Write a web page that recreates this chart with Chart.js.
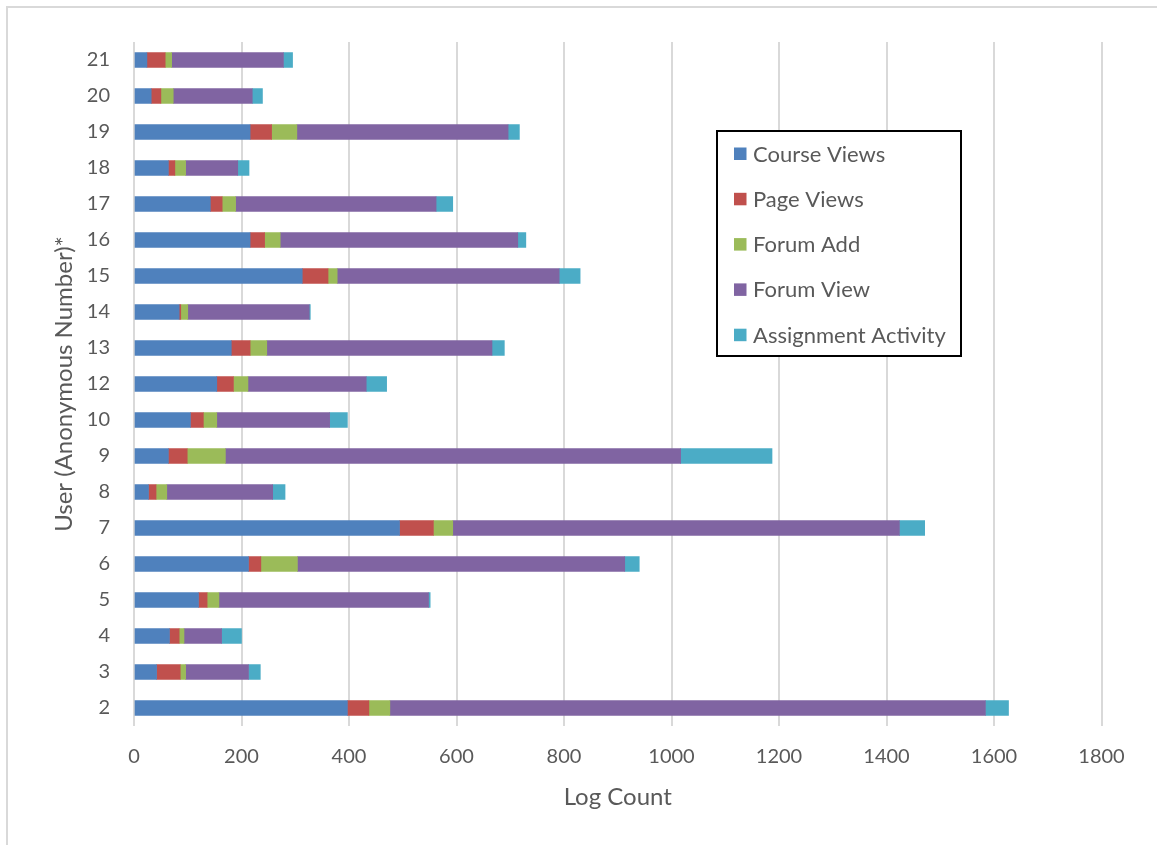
<!DOCTYPE html>
<html>
<head>
<meta charset="utf-8">
<title>Log Count by User</title>
<script src="https://cdn.jsdelivr.net/npm/chart.js@4.4.1/dist/chart.umd.min.js"></script>
<style>
  html, body { margin: 0; padding: 0; background: #ffffff; }
  canvas { display: block; }
</style>
</head>
<body>
<canvas id="chart" width="1157" height="845"></canvas>
<script>
// Users, listed bottom to top
const users = ['2', '3', '4', '5', '6', '7', '8', '9', '10', '12', '13', '14', '15', '16', '17', '18', '19', '20', '21'];

// Log counts per activity type, one value per user
const courseViews = [397, 42, 66, 120, 213, 494, 27, 64, 105, 154, 181, 84, 313, 216, 142, 64, 216, 32, 24];
const pageViews   = [40, 44, 18, 16, 23, 63, 14, 35, 24, 31, 35, 3, 48, 27, 22, 12, 40, 18, 34];
const forumAdd    = [39, 10, 9, 22, 68, 36, 20, 71, 25, 27, 31, 13, 17, 29, 25, 20, 47, 23, 12];
const forumView   = [1108, 117, 70, 390, 609, 831, 197, 847, 210, 220, 419, 226, 413, 442, 373, 97, 393, 147, 208];
const assignment  = [43, 22, 37, 3, 27, 47, 23, 170, 33, 38, 23, 2, 39, 15, 31, 21, 21, 19, 17];

const seriesNames = ['Course Views', 'Page Views', 'Forum Add', 'Forum View', 'Assignment Activity'];
const seriesColors = ['#4F81BD', '#C0504D', '#9BBB59', '#8064A2', '#4BACC6'];

// x-axis range
const xMin = 0, xMax = 1800, xStep = 200;

const FONT = 'Lato, Carlito, "Open Sans", sans-serif';
const TEXT = '#595959';

const seriesValues = [courseViews, pageViews, forumAdd, forumView, assignment];
const datasets = seriesValues.map((vals, i) => ({
  label: seriesNames[i],
  data: vals,
  backgroundColor: seriesColors[i],
  borderWidth: 0,
  barThickness: 15
}));

// Light frame around the whole chart
const framePlugin = {
  id: 'frame',
  beforeDraw(chart) {
    const ctx = chart.ctx;
    ctx.save();
    ctx.fillStyle = '#ffffff';
    ctx.fillRect(0, 0, chart.width, chart.height);
    ctx.strokeStyle = '#d9d9d9';
    ctx.lineWidth = 2;
    ctx.strokeRect(7, 7, chart.width + 20, chart.height + 20);
    ctx.restore();
  }
};

// Boxed legend placed inside the plot area
const boxLegendPlugin = {
  id: 'boxLegend',
  afterDraw(chart) {
    const ctx = chart.ctx;
    const x0 = 717, y0 = 131, w = 244, h = 225;
    ctx.save();
    ctx.fillStyle = '#ffffff';
    ctx.fillRect(x0, y0, w, h);
    ctx.strokeStyle = '#000000';
    ctx.lineWidth = 2;
    ctx.strokeRect(x0, y0, w, h);
    ctx.font = '22px ' + FONT;
    ctx.textBaseline = 'middle';
    ctx.textAlign = 'left';
    chart.data.datasets.forEach((ds, i) => {
      const cy = 153.5 + i * 45.3;
      ctx.fillStyle = ds.backgroundColor;
      ctx.fillRect(734, cy - 6, 12.5, 12.5);
      ctx.fillStyle = TEXT;
      ctx.fillText(ds.label, 753, cy + 1);
    });
    ctx.restore();
  }
};

new Chart(document.getElementById('chart'), {
  type: 'bar',
  data: { labels: users, datasets },
  options: {
    indexAxis: 'y',
    responsive: false,
    animation: false,
    layout: { padding: { left: 0, top: 42, right: 55.5, bottom: 0 } },
    plugins: {
      legend: { display: false },
      tooltip: { enabled: false }
    },
    scales: {
      x: {
        stacked: true,
        min: xMin,
        max: xMax,
        ticks: {
          stepSize: xStep,
          padding: 19,
          color: TEXT,
          font: { family: FONT, size: 20 },
          callback: (v) => String(v)
        },
        grid: { color: '#d9d9d9', lineWidth: 2, drawTicks: false },
        border: { display: false },
        title: {
          display: true,
          text: 'Log Count',
          color: TEXT,
          font: { family: FONT, size: 24 },
          padding: { top: 0, bottom: 33.6 }
        },
        afterFit(scale) { scale.height = 119; }
      },
      y: {
        stacked: true,
        reverse: true,
        ticks: {
          padding: 24,
          color: TEXT,
          font: { family: FONT, size: 20 }
        },
        grid: { display: false, drawTicks: false },
        border: { display: false },
        title: {
          display: true,
          text: 'User (Anonymous Number)*',
          color: TEXT,
          font: { family: FONT, size: 24 },
          padding: { top: 49.6, bottom: 0 }
        },
        afterFit(scale) { scale.width = 134; }
      }
    }
  },
  plugins: [framePlugin, boxLegendPlugin]
});
</script>
</body>
</html>
